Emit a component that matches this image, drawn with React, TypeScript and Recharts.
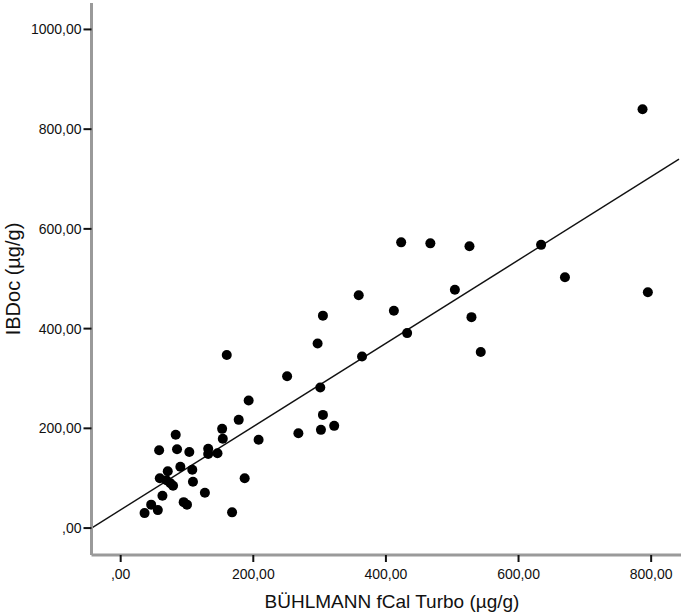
import { ScatterChart, Scatter, XAxis, YAxis, ReferenceLine, Label } from "recharts"

// BÜHLMANN fCal Turbo values (µg/g)
const buhlmann = [
  160, 193, 178, 153, 154, 83, 58, 85, 103.5, 132, 132, 146, 71, 90, 108, 59, 69, 75, 79, 109,
  63, 127, 95, 100, 46, 56, 36, 168, 187, 359, 305, 297, 364, 251, 301, 305, 322, 302, 268, 208,
  423, 467, 526, 634, 670, 504, 412, 529, 432, 543, 787, 795,
]

// IBDoc values (µg/g)
const ibdoc = [
  347, 256, 217, 199, 179, 187, 156, 158, 152.5, 159, 148.5, 150, 114, 123, 117, 100, 96, 90, 85, 93,
  65, 71, 52, 47, 47, 36, 30, 31.5, 100, 467, 426, 370, 344, 304.5, 282, 227, 205, 197, 190, 177,
  573, 571, 565, 568, 503, 478, 436, 423, 391, 353, 840, 473,
]

const xTicks = [0, 200, 400, 600, 800]
const yTicks = [0, 200, 400, 600, 800, 1000]

// fit line
const intercept = 36.7
const slope = 0.835

const xDomain = [-44, 845]
const yDomain = [-54, 1053]

const points = buhlmann.map((x, i) => ({ x, y: ibdoc[i] }))

const fmt = (v: number) => (v === 0 ? ",00" : v.toFixed(2).replace(".", ","))

const font = "'Liberation Sans', Arial, sans-serif"

const Dot = (props: any) => <circle cx={props.cx} cy={props.cy} r={5} fill="#000" />

export default function App() {
  const lineEnd = 842
  return (
    <div style={{ position: "absolute", left: 0, top: 0, background: "#fff" }}>
      <ScatterChart width={683} height={615} margin={{ top: 3, right: 2, bottom: 0, left: 0 }}>
        <XAxis
          type="number"
          dataKey="x"
          domain={xDomain}
          ticks={xTicks}
          allowDataOverflow
          height={60}
          tickSize={7}
          tickMargin={7}
          tickFormatter={fmt}
          axisLine={{ stroke: "#9a9a9a", strokeWidth: 3 }}
          tickLine={{ stroke: "#111", strokeWidth: 2 }}
          tick={{ fill: "#111", fontSize: 14, fontFamily: font }}
        >
          <Label
            content={() => (
              <text x={392} y={608} textAnchor="middle" fontSize={19} fontFamily={font} fill="#111">
                BÜHLMANN fCal Turbo (µg/g)
              </text>
            )}
          />
        </XAxis>
        <YAxis
          type="number"
          dataKey="y"
          domain={yDomain}
          ticks={yTicks}
          allowDataOverflow
          width={91.5}
          tickSize={8}
          tickMargin={2}
          tickFormatter={fmt}
          axisLine={{ stroke: "#9a9a9a", strokeWidth: 3 }}
          tickLine={{ stroke: "#111", strokeWidth: 2 }}
          tick={{ fill: "#111", fontSize: 14, fontFamily: font }}
        >
          <Label
            content={() => (
              <text
                x={19.5}
                y={279}
                transform="rotate(-90 19.5 279)"
                textAnchor="middle"
                fontSize={20}
                fontFamily={font}
                fill="#111"
              >
                IBDoc (µg/g)
              </text>
            )}
          />
        </YAxis>
        <ReferenceLine
          segment={[
            { x: xDomain[0], y: intercept + slope * xDomain[0] },
            { x: lineEnd, y: intercept + slope * lineEnd },
          ]}
          stroke="#111"
          strokeWidth={1.4}
        />
        <Scatter data={points} shape={Dot} isAnimationActive={false} />
      </ScatterChart>
    </div>
  )
}
